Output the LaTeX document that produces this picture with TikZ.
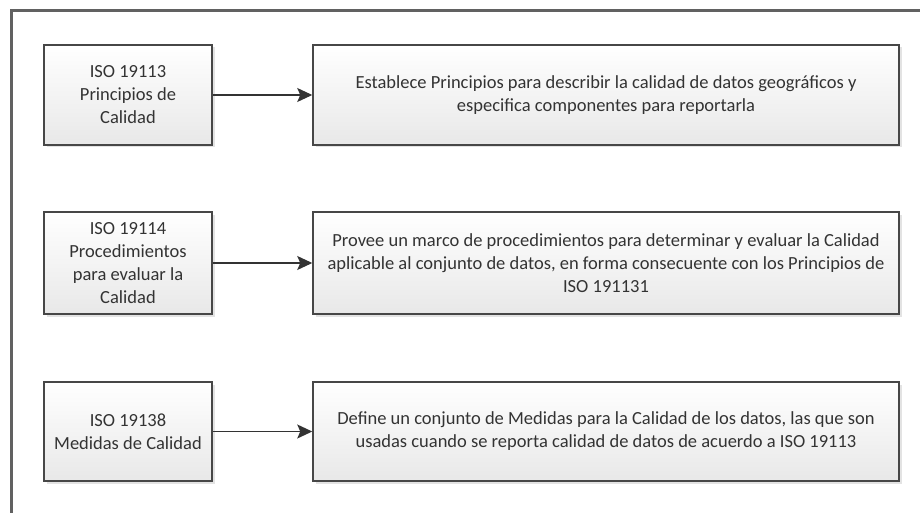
\documentclass[tikz,border=0pt]{standalone}
\usepackage{fontspec}
\setmainfont{Carlito}
\usetikzlibrary{arrows.meta,shadows}

\tikzset{
  caja/.style={draw=black!72, line width=1.5pt, shading=axis, top color=white,
    bottom color=black!9, drop shadow={shadow xshift=2.5pt, shadow yshift=-2.5pt, opacity=.22},
    align=center, text=black!80, inner sep=0pt},
  norma/.style={caja, minimum width=168pt},
  desc/.style={caja, minimum width=586pt},
  flecha/.style={draw=black!80, line width=1.3pt, -{Stealth[length=15pt,width=14pt,inset=3pt]}}
}

\begin{document}
\begin{tikzpicture}[x=1pt,y=-1pt,font=\fontsize{18.5}{23}\selectfont]
\useasboundingbox (0,0) rectangle (920,513);

% marco exterior
\begin{scope}
\clip (0,0) rectangle (920,513);
\draw[black!62, line width=3pt] (11,540) -- (11,11) -- (950,11);
\end{scope}

\pgfmathsetmacro{\xnorma}{128}
\pgfmathsetmacro{\xdesc}{606}

\node[norma, minimum height=100pt] (n1) at (\xnorma,95) {ISO 19113\\Principios de\\Calidad};
\node[desc, minimum height=100pt] (d1) at (\xdesc,95)
  {Establece Principios para describir la calidad de datos geográficos y\\especifica componentes para reportarla};

\node[norma, minimum height=102pt] (n2) at (\xnorma,263) {ISO 19114\\Procedimientos\\para evaluar la\\Calidad};
\node[desc, minimum height=102pt] (d2) at (\xdesc,263)
  {Provee un marco de procedimientos para determinar y evaluar la Calidad\\aplicable al conjunto de datos, en forma consecuente con los Principios de\\ISO 191131};

\node[norma, minimum height=99pt] (n3) at (\xnorma,431.5) {ISO 19138\\Medidas de Calidad};
\node[desc, minimum height=99pt] (d3) at (\xdesc,431.5)
  {Define un conjunto de Medidas para la Calidad de los datos, las que son\\usadas cuando se reporta calidad de datos de acuerdo a ISO 19113};

\draw[flecha] (n1) -- (d1);
\draw[flecha] (n2) -- (d2);
\draw[flecha] (n3) -- (d3);

\end{tikzpicture}
\end{document}
